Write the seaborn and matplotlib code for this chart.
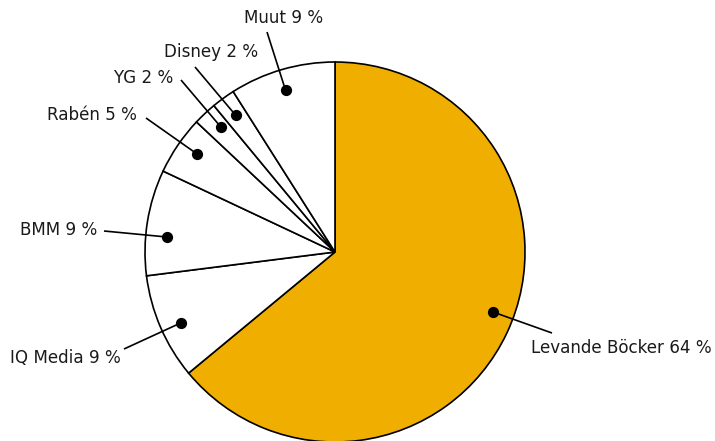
import numpy as np
import matplotlib
matplotlib.use("Agg")
import matplotlib.pyplot as plt
import seaborn as sns

labels = ["Levande Böcker", "IQ Media", "BMM", "Rabén", "YG", "Disney", "Muut"]
values = [64, 9, 9, 5, 2, 2, 9]
colors = ["#F0AF00", "white", "white", "white", "white", "white", "white"]

sns.set_theme(style="white")
plt.rcParams["font.family"] = ["DejaVu Sans"]

W, H = 715, 441
fig = plt.figure(figsize=(W / 100, H / 100), dpi=100)
ax = fig.add_axes([0, 0, 1, 1])

cx, cy, R = 335, H - 252, 190
wedges, _ = ax.pie(values, colors=colors, startangle=90, counterclock=False,
                   center=(cx, cy), radius=R, frame=True,
                   wedgeprops=dict(edgecolor="black", linewidth=1.2))
ax.set_xlim(0, W)
ax.set_ylim(0, H)
ax.axis("off")

# layout: (line start x, y in pixel), (text x, y), ha, angle tweak
layout = {
    "Levande Böcker": ((552, 333), (531, 348), "left", 4.4),
    "IQ Media": ((124, 349), (121, 358), "right", 1.3),
    "BMM": ((104, 231), (97, 230), "right", 3.9),
    "Rabén": ((146, 118), (137, 115), "right", -1.2),
    "YG": ((181, 80), (173, 78), "right", -0.8),
    "Disney": ((195, 67), (258, 52), "right", 0),
    "Muut": ((267, 32), (323, 18), "right", 0.8),
}

for w, lab, v in zip(wedges, labels, values):
    (sx, sy), (tx, ty), ha, tweak = layout[lab]
    mid = np.deg2rad((w.theta1 + w.theta2) / 2 + tweak)
    dx = cx + 0.89 * R * np.cos(mid)
    dy = cy + 0.89 * R * np.sin(mid)
    ax.plot([sx, dx], [H - sy, dy], color="black", lw=1.2, solid_capstyle="butt")
    ax.scatter([dx], [dy], s=50, color="black", zorder=5)
    ax.text(tx, H - ty, f"{lab} {v} %", ha=ha, va="center", fontsize=12.1, color="#1a1a1a")

fig.savefig("out.png", dpi=100)
